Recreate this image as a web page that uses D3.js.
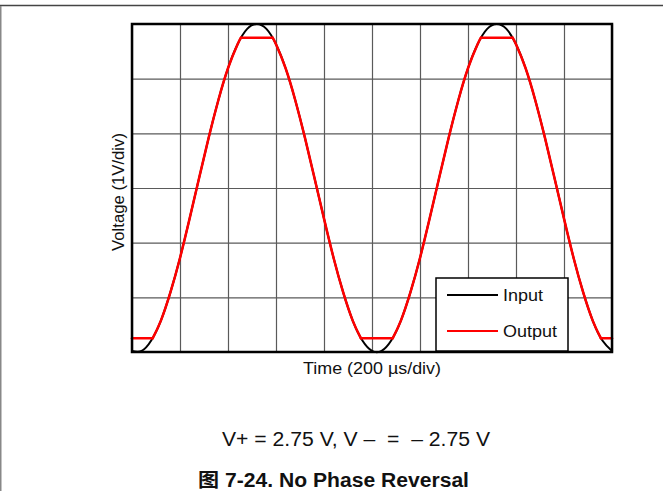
<!DOCTYPE html>
<html>
<head>
<meta charset="utf-8">
<script src="https://cdn.jsdelivr.net/npm/d3@7"></script>
<style>
  html, body { margin: 0; padding: 0; background: #fff; }
  svg { display: block; font-family: "Liberation Sans", Arial, sans-serif; }
  text { white-space: pre; }
</style>
</head>
<body>
<svg id="chart" width="663" height="491"></svg>
<script>
// Scope screen: 10 horizontal divisions (200 µs each), 6 vertical divisions (1 V each)
const xDivisions = d3.range(0, 11);
const yDivisions = d3.range(-3, 4);

// Sample instants, in divisions
const sampleTime = d3.range(51).map(i => i * 0.2);

// Input sine (V) at each sample instant
const inputVolts = [
  -2.98, -2.98, -2.79, -2.43, -1.91, -1.28, -0.56, 0.19, 0.93, 1.61,
   2.19,  2.63,  2.91,  3.00,  2.91,  2.63,  2.19, 1.61, 0.93, 0.19,
  -0.56, -1.28, -1.91, -2.43, -2.79, -2.98, -2.98, -2.79, -2.43, -1.91,
  -1.28, -0.56,  0.19,  0.93,  1.61,  2.19,  2.63,  2.91,  3.00,  2.91,
   2.63,  2.19,  1.61,  0.93,  0.19, -0.56, -1.28, -1.91, -2.43, -2.79,
  -2.98
];

// Output: follows the input and flattens at the ±2.75 V rails
const outputTime = [
  0, 0.43, 0.6, 0.8, 1.0, 1.2, 1.4, 1.6, 1.8, 2.0, 2.2, 2.27,
  2.93, 3.0, 3.2, 3.4, 3.6, 3.8, 4.0, 4.2, 4.4, 4.6, 4.77,
  5.43, 5.6, 5.8, 6.0, 6.2, 6.4, 6.6, 6.8, 7.0, 7.2, 7.27,
  7.93, 8.0, 8.2, 8.4, 8.6, 8.8, 9.0, 9.2, 9.4, 9.6, 9.77,
  10
];
const outputVolts = [
  -2.75, -2.75, -2.43, -1.91, -1.28, -0.56, 0.19, 0.93, 1.61, 2.19, 2.63, 2.75,
   2.75,  2.63,  2.19,  1.61,  0.93,  0.19, -0.56, -1.28, -1.91, -2.43, -2.75,
  -2.75, -2.43, -1.91, -1.28, -0.56,  0.19,  0.93,  1.61,  2.19,  2.63, 2.75,
   2.75,  2.63,  2.19,  1.61,  0.93,  0.19, -0.56, -1.28, -1.91, -2.43, -2.75,
  -2.75
];
const railVolts = 2.75;

const seriesNames = ["Input", "Output"];
const seriesColors = ["#000000", "#ff0000"];

const svg = d3.select("#chart");
const plotLeft = 132, plotRight = 612, plotTop = 24, plotBottom = 352;

const x = d3.scaleLinear().domain([0, 10]).range([plotLeft, plotRight]);
const y = d3.scaleLinear().domain([-3, 3]).range([plotBottom, plotTop]);

// Page frame
svg.append("line").attr("x1", 0).attr("x2", 663).attr("y1", 5.5).attr("y2", 5.5)
  .attr("stroke", "#444").attr("stroke-width", 1.5);
svg.append("line").attr("x1", 0.75).attr("x2", 0.75).attr("y1", 6).attr("y2", 491)
  .attr("stroke", "#888").attr("stroke-width", 1.5);

// Graticule
const gx = svg.append("g").attr("transform", `translate(0,${plotBottom})`)
  .call(d3.axisBottom(x).tickValues(xDivisions).tickSize(-(plotBottom - plotTop)).tickFormat(""));
const gy = svg.append("g").attr("transform", `translate(${plotLeft},0)`)
  .call(d3.axisLeft(y).tickValues(yDivisions).tickSize(-(plotRight - plotLeft)).tickFormat(""));
[gx, gy].forEach(g => {
  g.select(".domain").remove();
  g.selectAll(".tick line").attr("stroke", "#5a5a5a").attr("stroke-width", 1.2);
});

// Traces
svg.append("clipPath").attr("id", "plot-clip")
  .append("rect").attr("x", plotLeft - 2).attr("y", plotTop - 2)
  .attr("width", plotRight - plotLeft + 4).attr("height", plotBottom - plotTop + 4);

const plot = svg.append("g").attr("clip-path", "url(#plot-clip)");

const inputPts = sampleTime.map((t, i) => [t, inputVolts[i]]);
const line = d3.line().x(d => x(d[0])).y(d => y(d[1])).curve(d3.curveNatural);
plot.append("path").attr("d", line(inputPts))
  .attr("fill", "none").attr("stroke", seriesColors[0]).attr("stroke-width", 2);

// Output is split into rail-limited (flat) runs and tracking runs
const outputPts = outputTime.map((t, i) => [t, outputVolts[i]]);
const isFlatStep = (q, p) => Math.abs(p[1]) === railVolts && p[1] === q[1];
const runs = [];
let cur = [outputPts[0], outputPts[1]];
let curFlat = isFlatStep(outputPts[0], outputPts[1]);
for (let i = 2; i < outputPts.length; i++) {
  const q = outputPts[i - 1], p = outputPts[i];
  const f = isFlatStep(q, p);
  if (f === curFlat) {
    cur.push(p);
  } else {
    runs.push(cur);
    cur = [q, p];
    curFlat = f;
  }
}
runs.push(cur);
runs.forEach(r => {
  plot.append("path").attr("d", line(r))
    .attr("fill", "none").attr("stroke", seriesColors[1]).attr("stroke-width", 2.5)
    .attr("stroke-linecap", "round");
});

// Plot border
svg.append("rect").attr("x", plotLeft).attr("y", plotTop)
  .attr("width", plotRight - plotLeft).attr("height", plotBottom - plotTop)
  .attr("fill", "none").attr("stroke", "#000").attr("stroke-width", 2.5);

// Text helper: fixed rendered width, glyphs stretched slightly
function label(sel, str, width) {
  return sel.text(str).attr("textLength", width).attr("lengthAdjust", "spacingAndGlyphs");
}

// Legend
const lg = svg.append("g");
lg.append("rect").attr("x", 436).attr("y", 278).attr("width", 132).attr("height", 73)
  .attr("fill", "#fff").attr("stroke", "#000").attr("stroke-width", 1.5);
const legendWidths = [40, 54];
seriesNames.forEach((name, i) => {
  const ly = 295 + i * 36;
  lg.append("line").attr("x1", 447).attr("x2", 498).attr("y1", ly).attr("y2", ly)
    .attr("stroke", seriesColors[i]).attr("stroke-width", 2);
  label(lg.append("text").attr("x", 503).attr("y", ly + 6).attr("font-size", 16.5)
    .attr("fill", "#111"), name, legendWidths[i]);
});

// Axis titles
label(svg.append("text").attr("x", 303).attr("y", 373.5)
  .attr("font-size", 16.5).attr("fill", "#111"), "Time (200 µs/div)", 138);
label(svg.append("text").attr("transform", `translate(124,251) rotate(-90)`)
  .attr("font-size", 16.5).attr("fill", "#111"), "Voltage (1V/div)", 118);

// Conditions and caption
label(svg.append("text").attr("x", 222).attr("y", 446)
  .attr("font-size", 20).attr("fill", "#111"), "V+ = 2.75 V, V \u2013  =  \u2013 2.75 V", 268);
label(svg.append("text").attr("x", 198).attr("y", 487)
  .attr("font-size", 19.5).attr("font-weight", "bold").attr("fill", "#111")
  .style("font-family", "'Liberation Sans', 'Noto Sans CJK SC', sans-serif"),
  "图 7-24. No Phase Reversal", 271);
</script>
</body>
</html>
